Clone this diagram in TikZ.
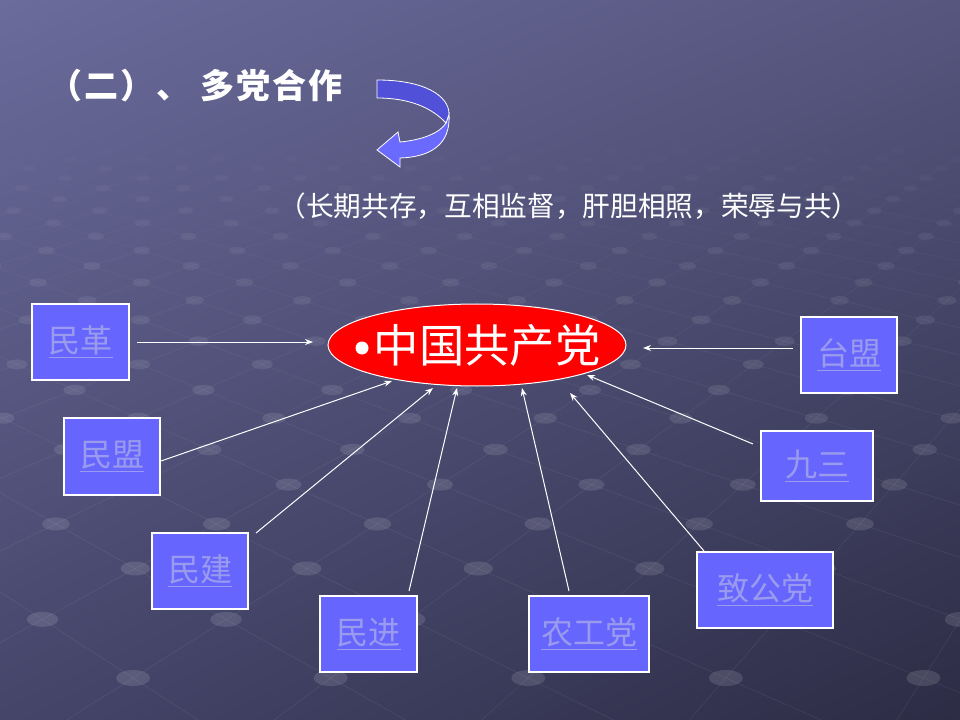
\documentclass[tikz,border=0pt]{standalone}
\usepackage{fontspec}
\newfontfamily\cjk{Noto Sans CJK SC}
\usetikzlibrary{arrows.meta,shapes.geometric,shadings}
\definecolor{bgul}{HTML}{6B6B9C}
\definecolor{bgur}{HTML}{56567F}
\definecolor{bgll}{HTML}{45456A}
\definecolor{bglr}{HTML}{2C2C45}
\definecolor{boxblue}{HTML}{6666FF}
\definecolor{boxtext}{HTML}{9A9AEE}
\definecolor{ribtop}{HTML}{5050D8}
\definecolor{ribbot}{HTML}{6A6AFF}
\tikzset{
  party/.style={rectangle, draw=white, line width=1.1pt, fill=boxblue,
    text=boxtext, font=\cjk\fontsize{24pt}{28pt}\selectfont, inner sep=0pt},
  conn/.style={draw=white, line width=0.75pt,
    -{Stealth[length=6pt,width=4.5pt]}},
  cpc/.style={ellipse, draw=white, line width=0.75pt, fill=red,
    inner sep=0pt, minimum width=223.5pt, minimum height=61.5pt},
  cpctext/.style={text=white, inner sep=0pt, font=\cjk\fontsize{34pt}{38pt}\selectfont},
  ribbon/.style={draw=white, line width=0.6pt},
  bgdot/.style={fill=white},
  bgline/.style={draw=white, line width=0.5pt}
}
\begin{document}
\begin{tikzpicture}[x=0.75pt,y=-0.75pt]
\useasboundingbox (0,0) rectangle (960,720);
\shade[upper left=bgul, upper right=bgur, lower left=bgll, lower right=bglr]
  (0,0) rectangle (960,720);

% perspective dot lattice in the background
\begin{scope}
\clip (0,0) rectangle (960,720);
\foreach \n in {-1,...,25}{
  \pgfmathsetmacro\Z{1+\n*0.0762}
  \pgfmathsetmacro\Zn{\Z+0.0762}
  \pgfmathsetmacro\op{max(0,min(1,(2.9-\Z)/1.7))}
  \pgfmathsetmacro\dop{0.12*\op}
  \pgfmathsetmacro\lop{0.07*\op}
  \pgfmathsetmacro\sy{-150+828/\Z}
  \pgfmathsetmacro\ny{-150+828/\Zn}
  \pgfmathsetmacro\rx{17/\Z}
  \pgfmathsetmacro\ry{8/\Z}
  \foreach \k in {-6,...,16}{
    \pgfmathsetmacro\X{-0.013+(\k+0.5*mod(\n+2,2))*0.152}
    \pgfmathsetmacro\sx{150+1300*\X/\Z}
    \pgfmathsetmacro\ax{150+1300*(\X-0.076)/\Zn}
    \pgfmathsetmacro\bx{150+1300*(\X+0.076)/\Zn}
    \draw[bgline, draw opacity=\lop] (\sx,\sy) -- (\ax,\ny);
    \draw[bgline, draw opacity=\lop] (\sx,\sy) -- (\bx,\ny);
    \fill[bgdot, fill opacity=\dop] (\sx,\sy) ellipse [x radius=\rx, y radius=\ry];
  }
}
\end{scope}

% title
\node[anchor=west, text=white, font=\cjk\bfseries\fontsize{25.5pt}{30pt}\selectfont\addfontfeature{LetterSpace=6}, inner sep=0pt]
  (title) at (48,86) {（二）、\hspace{0.3em}多党合作};

% curved ribbon arrow
\fill[ribbot, ribbon] (449,114) .. controls (451,145) and (430,157) .. (400,158)
  -- (400,167) -- (377,150) -- (398,132) -- (400,142)
  .. controls (422,140) and (440,133) .. (446,123) -- cycle;
\fill[ribtop, ribbon] (377,80) .. controls (425,80) and (449,96) .. (449,114)
  -- (446,123) .. controls (432,108) and (410,98) .. (377,98) -- cycle;

% subtitle
\node[text=white, font=\cjk\fontsize{20.75pt}{24pt}\selectfont, inner sep=0pt]
  (motto) at (569,206) {（长期共存，互相监督，肝胆相照，荣辱与共）};

% central node
\node[cpc] (cpc) at (477,345) {};
\node[cpctext] (cpcname) at (487,345) {中国共产党};
\fill[white] (362,348) circle [radius=6.5];

% party boxes
\node[party, minimum width=72.75pt, minimum height=57pt] (mg) at (80.5,342) {\underline{民革}};
\node[party, minimum width=72pt, minimum height=57.75pt] (mm) at (112,456.5) {\underline{民盟}};
\node[party, minimum width=72pt, minimum height=57pt] (mj) at (200,571) {\underline{民建}};
\node[party, minimum width=72.75pt, minimum height=57pt] (mjin) at (368.5,634) {\underline{民进}};
\node[party, minimum width=90pt, minimum height=57pt] (ng) at (589,634) {\underline{农工党}};
\node[party, minimum width=102pt, minimum height=57pt] (zg) at (765,590) {\underline{致公党}};
\node[party, minimum width=84pt, minimum height=52.5pt] (js) at (817,466) {\underline{九三}};
\node[party, minimum width=72pt, minimum height=57pt] (tm) at (849,355) {\underline{台盟}};

% connector end points
\coordinate (s1) at (137,342);  \coordinate (t1) at (313,342);
\coordinate (s2) at (161,461);  \coordinate (t2) at (392,381);
\coordinate (s3) at (256,533);  \coordinate (t3) at (433,388);
\coordinate (s4) at (409,591);  \coordinate (t4) at (457,388);
\coordinate (s5) at (569,591);  \coordinate (t5) at (522,388);
\coordinate (s6) at (704,551);  \coordinate (t6) at (570,393);
\coordinate (s7) at (753,444);  \coordinate (t7) at (587,375);
\coordinate (s8) at (793,348);  \coordinate (t8) at (643,348);

\foreach \c in {1,...,8} { \draw[conn] (s\c) -- (t\c); }
\end{tikzpicture}
\end{document}
